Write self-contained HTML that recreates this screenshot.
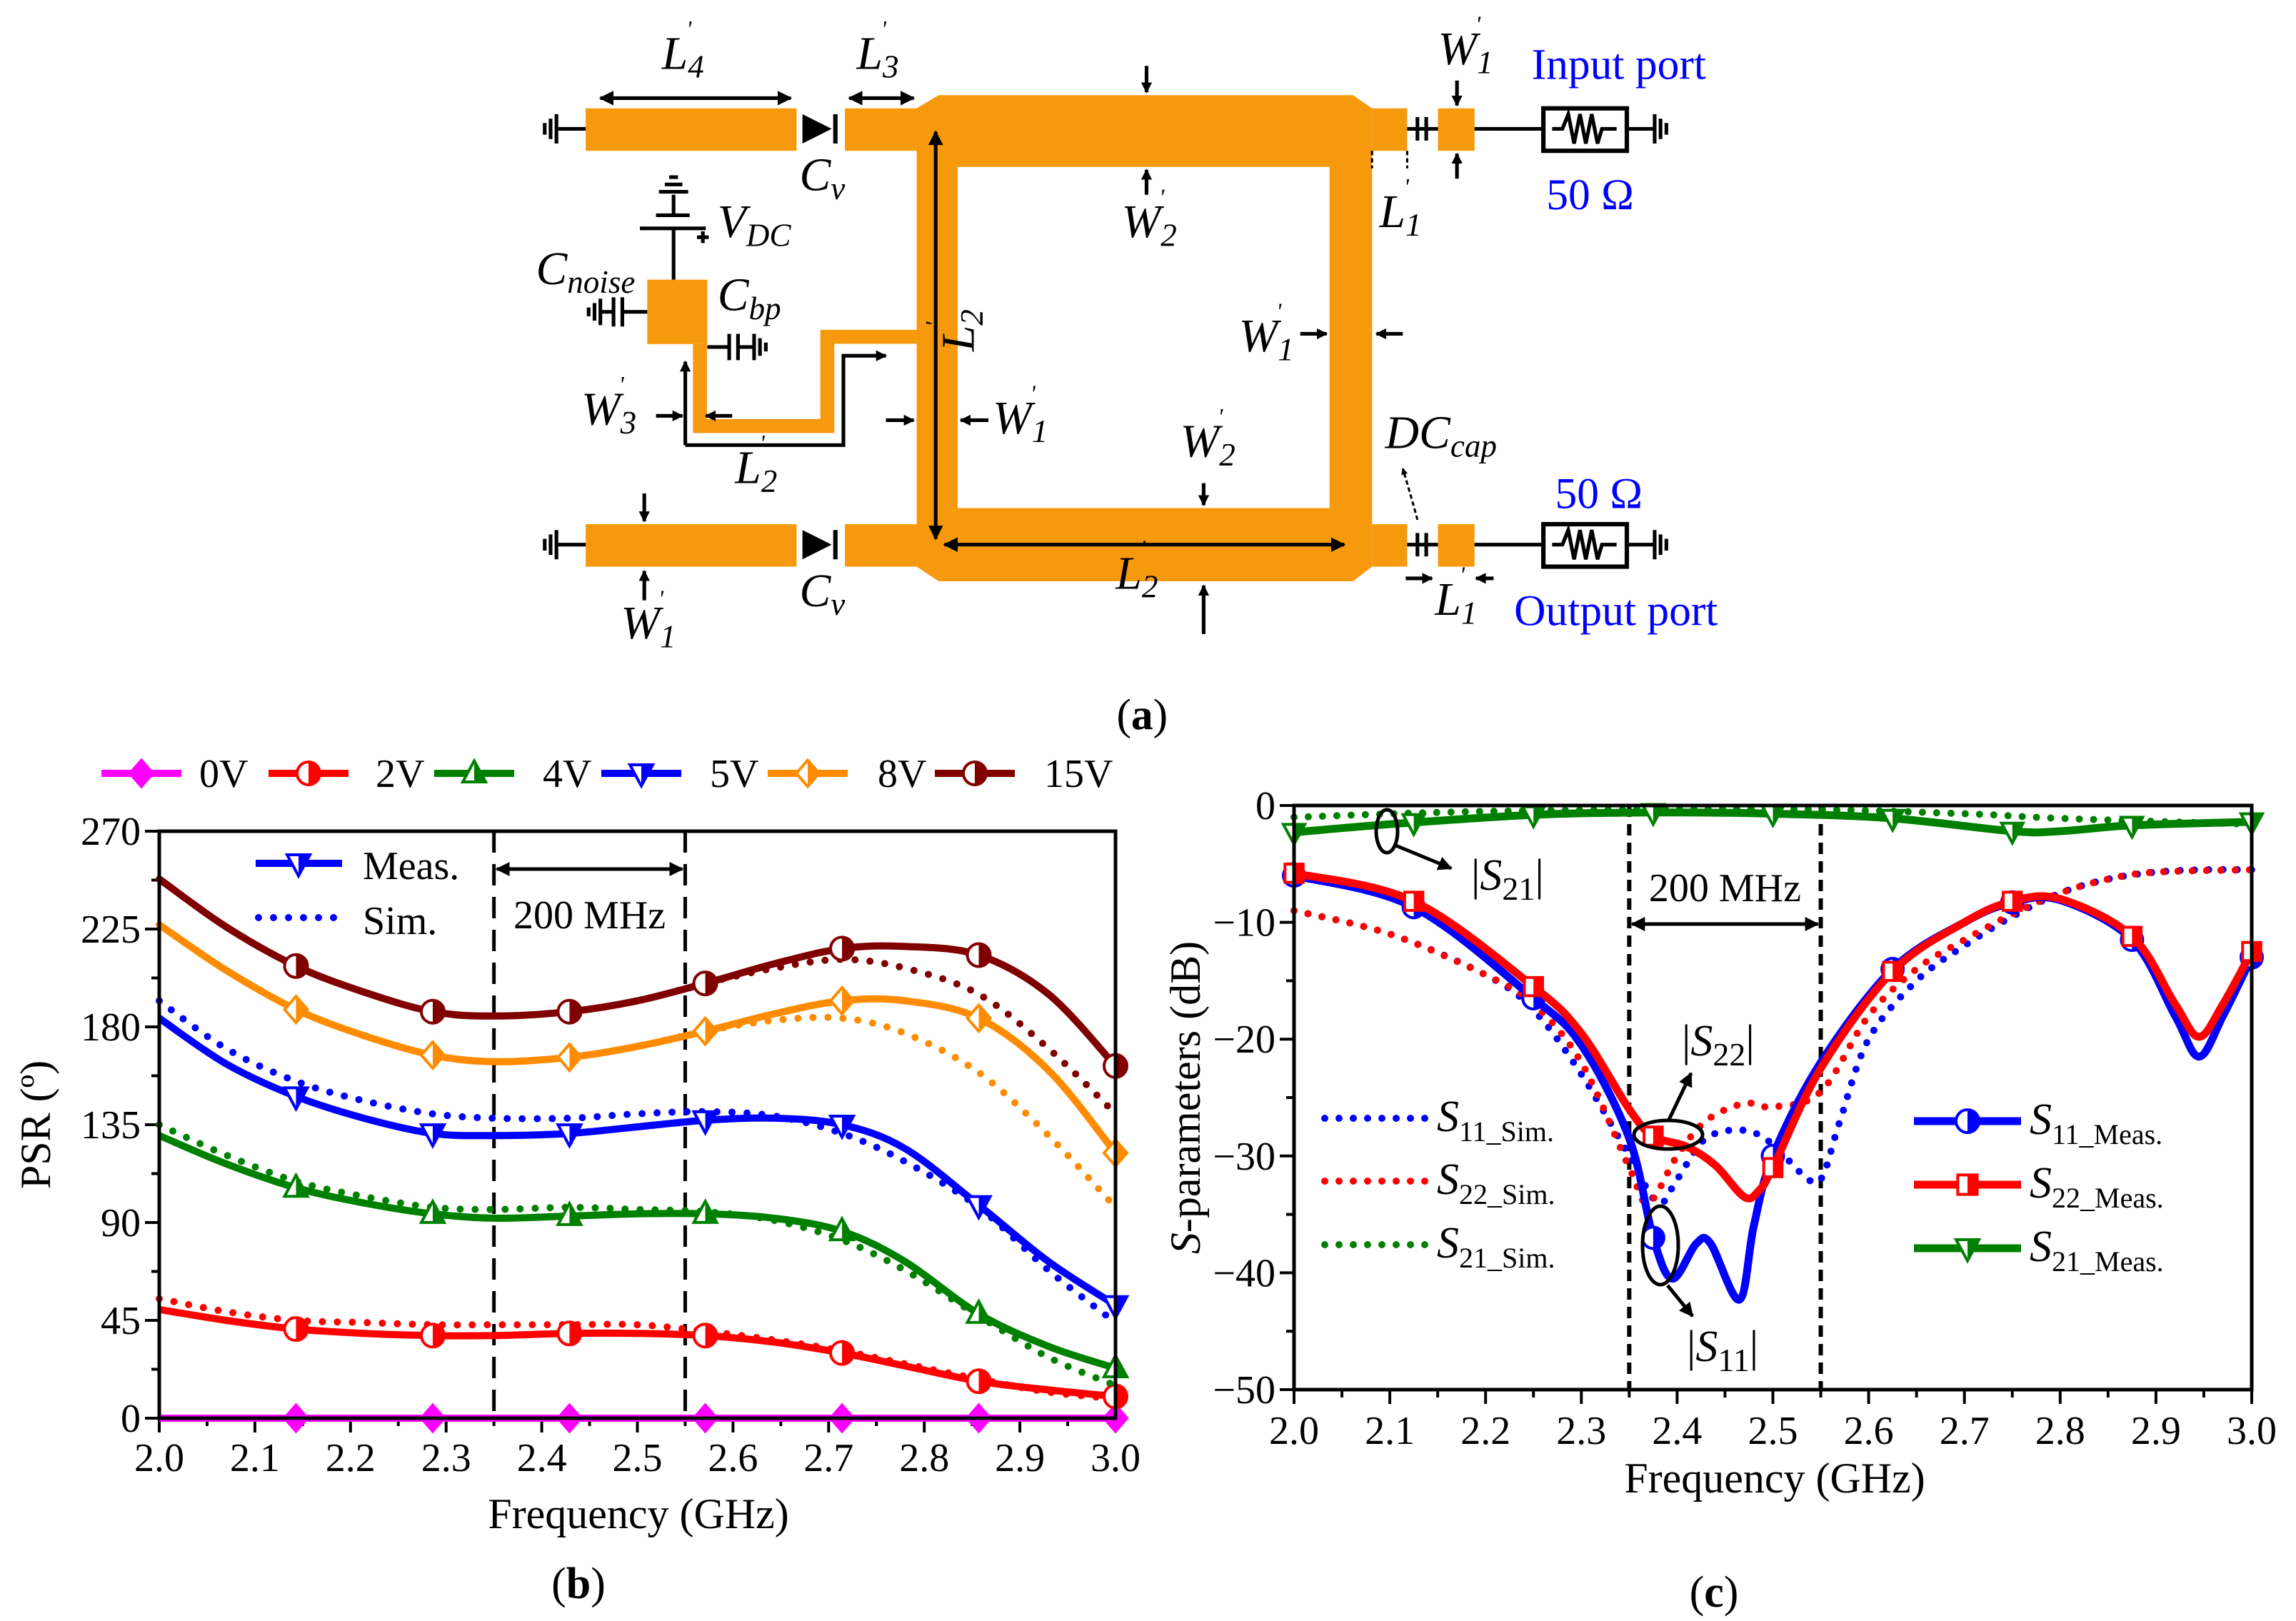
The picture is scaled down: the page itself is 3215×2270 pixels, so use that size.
<!DOCTYPE html>
<html><head><meta charset="utf-8"><style>
html,body{margin:0;padding:0;background:#fff}
svg{display:block}
text{font-family:"Liberation Serif","DejaVu Serif",serif}
</style></head><body>
<svg id="svg" xmlns="http://www.w3.org/2000/svg" width="3215" height="2270" viewBox="0 0 3215 2270">
<defs>
<marker id="ah" viewBox="0 0 10 10" refX="9" refY="5" markerWidth="4" markerHeight="4" orient="auto-start-reverse"><path d="M0,0 L10,5 L0,10 z" fill="#000"/></marker>
<marker id="ah2" viewBox="0 0 10 10" refX="9" refY="5" markerWidth="3" markerHeight="3" orient="auto-start-reverse"><path d="M0,0 L10,5 L0,10 z" fill="#000"/></marker>
</defs>

<!-- ============ (a) circuit diagram ============ -->
<g transform="scale(2.0504)" stroke-linecap="butt">
  <g fill="#f7990c">
    <polygon points="626,74 641,65 924,65 937,74 937,387 924,397 641,397 626,387"/>
    <rect x="400" y="74" width="144" height="29"/>
    <rect x="577" y="74" width="49" height="29"/>
    <rect x="937" y="74" width="24" height="29"/>
    <rect x="982" y="74" width="25" height="29"/>
    <rect x="400" y="358" width="144" height="29"/>
    <rect x="577" y="358" width="49" height="29"/>
    <rect x="937" y="358" width="24" height="29"/>
    <rect x="982" y="358" width="25" height="29"/>
    <rect x="442" y="191" width="41" height="44"/>
  </g>
  <rect x="654" y="114" width="254" height="233" fill="#fff"/>
  <polyline points="478,235 478,291 565,291 565,230 626,230" fill="none" stroke="#f7990c" stroke-width="9.5"/>
  <g stroke="#000" stroke-width="2.5" fill="none">
    <!-- grounds & lines top -->
    <path d="M380 88 H400 M380 78 V98 M376 81 V95 M372 84 V92"/>
    <path d="M380 372 H400 M380 362 V382 M376 365 V379 M372 368 V376"/>
    <path d="M961 88 H982 M968 80 V96 M974 80 V96 M1007 88 H1054 M1111 88 H1130 M1130 78 V98 M1134 81 V95 M1138 84 V92"/>
    <path d="M961 372 H982 M968 364 V380 M974 364 V380 M1007 372 H1054 M1111 372 H1130 M1130 362 V382 M1134 365 V379 M1138 368 V376"/>
    <rect x="1054" y="74" width="57" height="29" stroke-width="3"/>
    <rect x="1054" y="358" width="57" height="29" stroke-width="3"/>
    <path d="M1060 88 H1067 L1071 78 L1075 98 L1079 78 L1083 98 L1087 78 L1091 98 L1094 88 H1104"/>
    <path d="M1060 372 H1067 L1071 362 L1075 382 L1079 362 L1083 382 L1087 362 L1091 382 L1094 372 H1104"/>
    <!-- battery -->
    <path d="M460 191 V156 M437 156 H482 M448 147 H471 M460 147 V133 M450 131 H470 M454 126 H466 M457 121 H463"/>
    <path d="M476 162 H484 M480 158 V166"/>
    <!-- Cnoise -->
    <path d="M442 213 H425 M425 203 V223 M419 203 V223 M419 213 H410 M410 204 V222 M406 207 V219 M402 210 V216"/>
    <!-- Cbp -->
    <path d="M483 237 H498 M498 228 V246 M504 228 V246 M504 237 H515 M515 228 V246 M519 231 V243 M523 234 V240"/>
    <!-- L2' stub dimension -->
    <polyline points="468,304 576,304 576,243 605,243" marker-end="url(#ah2)"/>
    <line x1="468" y1="304" x2="468" y2="247" marker-end="url(#ah2)"/>
    <!-- L4, L3 dimension -->
    <line x1="410" y1="67" x2="540" y2="67" marker-start="url(#ah)" marker-end="url(#ah)"/>
    <line x1="580" y1="67" x2="624" y2="67" marker-start="url(#ah)" marker-end="url(#ah)"/>
    <line x1="639" y1="90" x2="639" y2="368" marker-start="url(#ah)" marker-end="url(#ah)"/>
    <line x1="645" y1="372" x2="918" y2="372" marker-start="url(#ah)" marker-end="url(#ah)"/>
    <!-- small arrows -->
    <line x1="783" y1="45" x2="783" y2="63" marker-end="url(#ah2)"/>
    <line x1="783" y1="133" x2="783" y2="116" marker-end="url(#ah2)"/>
    <line x1="995" y1="55" x2="995" y2="72" marker-end="url(#ah2)"/>
    <line x1="995" y1="122" x2="995" y2="105" marker-end="url(#ah2)"/>
    <line x1="888" y1="228" x2="906" y2="228" marker-end="url(#ah2)"/>
    <line x1="958" y1="228" x2="940" y2="228" marker-end="url(#ah2)"/>
    <line x1="605" y1="287" x2="624" y2="287" marker-end="url(#ah2)"/>
    <line x1="675" y1="287" x2="656" y2="287" marker-end="url(#ah2)"/>
    <line x1="448" y1="284" x2="466" y2="284" marker-end="url(#ah2)"/>
    <line x1="500" y1="284" x2="482" y2="284" marker-end="url(#ah2)"/>
    <line x1="822" y1="330" x2="822" y2="345" marker-end="url(#ah2)"/>
    <line x1="822" y1="433" x2="822" y2="400" marker-end="url(#ah2)"/>
    <line x1="440" y1="337" x2="440" y2="356" marker-end="url(#ah2)"/>
    <line x1="440" y1="410" x2="440" y2="390" marker-end="url(#ah2)"/>
    <line x1="960" y1="395" x2="978" y2="395" marker-end="url(#ah2)"/>
    <line x1="1020" y1="395" x2="1008" y2="395" marker-end="url(#ah2)"/>
    <path d="M937 103 V115 M961 103 V115" stroke-dasharray="3 2" stroke-width="1.5"/>
    <path d="M968 355 Q964 340 958 320" stroke-dasharray="3 2" stroke-width="1.5" marker-end="url(#ah2)"/>
  </g>
  <g fill="#000">
    <polygon points="548,78 548,98 568,88"/><rect x="569" y="78" width="3" height="20"/>
    <polygon points="548,362 548,382 568,372"/><rect x="569" y="362" width="3" height="20"/>
  </g>
  <g font-style="italic" font-size="32" fill="#000">
    <text x="452" y="47">L<tspan font-size="22" dy="6">4</tspan><tspan font-size="16" dx="-12" dy="-28">'</tspan></text>
    <text x="585" y="47">L<tspan font-size="22" dy="6">3</tspan><tspan font-size="16" dx="-12" dy="-28">'</tspan></text>
    <text x="982" y="44">W<tspan font-size="22" dy="6">1</tspan><tspan font-size="16" dx="-12" dy="-28">'</tspan></text>
    <text x="546" y="130">C<tspan font-size="22" dy="6">v</tspan></text>
    <text x="546" y="414">C<tspan font-size="22" dy="6">v</tspan></text>
    <text x="490" y="162">V<tspan font-size="22" dy="6">DC</tspan></text>
    <text x="366" y="194">C<tspan font-size="22" dy="6">noise</tspan></text>
    <text x="490" y="212">C<tspan font-size="22" dy="6">bp</tspan></text>
    <text x="942" y="155">L<tspan font-size="22" dy="6">1</tspan><tspan font-size="16" dx="-12" dy="-28">'</tspan></text>
    <text x="766" y="162">W<tspan font-size="22" dy="6">2</tspan><tspan font-size="16" dx="-12" dy="-28">'</tspan></text>
    <text x="846" y="240">W<tspan font-size="22" dy="6">1</tspan><tspan font-size="16" dx="-12" dy="-28">'</tspan></text>
    <text x="397" y="290">W<tspan font-size="22" dy="6">3</tspan><tspan font-size="16" dx="-12" dy="-28">'</tspan></text>
    <text x="678" y="296">W<tspan font-size="22" dy="6">1</tspan><tspan font-size="16" dx="-12" dy="-28">'</tspan></text>
    <text x="502" y="330">L<tspan font-size="22" dy="6">2</tspan><tspan font-size="16" dx="-12" dy="-28">'</tspan></text>
    <text x="806" y="312">W<tspan font-size="22" dy="6">2</tspan><tspan font-size="16" dx="-12" dy="-28">'</tspan></text>
    <text x="946" y="306">DC<tspan font-size="22" dy="6">cap</tspan></text>
    <text x="424" y="436">W<tspan font-size="22" dy="6">1</tspan><tspan font-size="16" dx="-12" dy="-28">'</tspan></text>
    <text x="762" y="402">L<tspan font-size="22" dy="6">2</tspan><tspan font-size="16" dx="-12" dy="-28">'</tspan></text>
    <text x="980" y="420">L<tspan font-size="22" dy="6">1</tspan><tspan font-size="16" dx="-12" dy="-28">'</tspan></text>
    <text transform="translate(665,240) rotate(-90)">L<tspan font-size="22" dy="6">2</tspan><tspan font-size="16" dx="-12" dy="-28">'</tspan></text>
  </g>
  <g font-size="30" fill="#0000ff">
    <text x="1046" y="54">Input port</text>
    <text x="1056" y="143">50 Ω</text>
    <text x="1062" y="347">50 Ω</text>
    <text x="1034" y="427">Output port</text>
  </g>
  <text x="780" y="498" font-size="30" text-anchor="middle">(<tspan font-weight="bold">a</tspan>)</text>
</g>

<g id="chartB"></g>
<g id="chartC"></g>
</svg>

<script>
// ---------- Chart (b) data ----------
const bX = [2.0,2.07,2.143,2.214,2.286,2.35,2.429,2.5,2.571,2.643,2.714,2.78,2.857,2.93,3.0];
const bYTicks = [0,45,90,135,180,225,270];
const bXTicks = [2.0,2.1,2.2,2.3,2.4,2.5,2.6,2.7,2.8,2.9,3.0];
const v15Meas = [248,226,208,196,187,185,187,192,200,209,216,217,213,195,162];
const v15Sim  = [248,226,208,196,187,185,187,192,200,207,211,207,195,170,140];
const v8Meas  = [227,206,188,176,167,164,166,171,178,186,192,192,184,160,122];
const v8Sim   = [227,206,188,176,167,164,166,171,178,183,184,177,159,130,97];
const v5Meas  = [184,163,148,138,131,130,131,134,137,138,135,124,98,72,52];
const v5Sim   = [192,170,155,146,140,138,138,140,141,139,131,118,97,68,44];
const v4Meas  = [130,117,106,99,94,92,93,94,94,92,86,72,48,33,23];
const v4Sim   = [135,121,109,102,97,96,97,96,95,91,82,68,47,28,15];
const v2Meas  = [50,45,41,39,38,38,39,39,38,35,30,24,17,13,10];
const v2Sim   = [55,49,45,44,43,43,43,43,40,36,31,25,18,12,9];
const v0Meas  = [0,0,0,0,0,0,0,0,0,0,0,0,0,0,0];
const bLegend = ["0V","2V","4V","5V","8V","15V"];

// ---------- Chart (c) data ----------
const cYTicks = [0,-10,-20,-30,-40,-50];
const cXTicks = [2.0,2.1,2.2,2.3,2.4,2.5,2.6,2.7,2.8,2.9,3.0];
const s21MeasX = [2.0,2.1,2.25,2.375,2.5,2.625,2.75,2.8,2.875,3.0];
const s21MeasY = [-2.3,-1.6,-0.8,-0.6,-0.7,-1.1,-2.2,-2.2,-1.7,-1.4];
const s21SimX = [2.0,2.2,2.5,2.7,2.8,3.0];
const s21SimY = [-1.0,-0.5,-0.3,-0.7,-1.1,-1.6];
const s11MeasX = [2.0,2.125,2.25,2.3,2.35,2.375,2.395,2.42,2.435,2.465,2.48,2.5,2.55,2.625,2.7,2.75,2.8,2.875,2.92,2.945,2.97,3.0];
const s11MeasY = [-6,-8.7,-16.5,-20.5,-28.5,-37,-40.5,-37.5,-37.5,-42.3,-36,-30,-22,-14,-10,-8.3,-8.1,-11.5,-18,-21.5,-18,-13];
const s22MeasX = [2.0,2.125,2.25,2.3,2.35,2.375,2.41,2.44,2.47,2.485,2.5,2.55,2.625,2.7,2.75,2.8,2.875,2.92,2.945,2.97,3.0];
const s22MeasY = [-5.8,-8.2,-15.5,-19.5,-26,-28.3,-29.2,-30.8,-33.5,-33,-31,-22.5,-14.2,-10,-8.2,-8,-11.2,-17,-19.8,-17,-12.5];
const s11SimX = [2.0,2.1,2.2,2.25,2.3,2.35,2.38,2.4,2.43,2.47,2.5,2.53,2.55,2.57,2.6,2.65,2.7,2.75,2.8,2.85,2.9,2.95,3.0];
const s11SimY = [-9,-11,-14.5,-17.5,-23,-30,-34,-32,-28.5,-27.8,-29,-31.5,-32,-27,-20,-15,-12,-9.5,-7.5,-6.3,-5.7,-5.5,-5.5];
const s22SimX = [2.0,2.1,2.2,2.25,2.3,2.35,2.37,2.4,2.43,2.47,2.5,2.55,2.6,2.65,2.7,2.75,2.8,2.85,2.9,3.0];
const s22SimY = [-9,-11,-14.5,-17,-22,-31,-34,-30,-27,-25.5,-25.8,-24.5,-18,-14,-11.5,-9.3,-7.5,-6.3,-5.7,-5.5];
const cMarkX = [2.0,2.125,2.25,2.375,2.5,2.625,2.75,2.875,3.0];

const NS = "http://www.w3.org/2000/svg";
function el(parent, tag, attrs, txt){
  const e = document.createElementNS(NS, tag);
  for (const k in attrs) e.setAttribute(k, attrs[k]);
  if (txt !== undefined) e.textContent = txt;
  parent.appendChild(e);
  return e;
}
function smoothPath(pts){
  let d = "M" + pts[0][0].toFixed(1) + "," + pts[0][1].toFixed(1);
  for (let i=0;i<pts.length-1;i++){
    const p0=pts[Math.max(0,i-1)], p1=pts[i], p2=pts[i+1], p3=pts[Math.min(pts.length-1,i+2)];
    const c1=[p1[0]+(p2[0]-p0[0])/6, p1[1]+(p2[1]-p0[1])/6];
    const c2=[p2[0]-(p3[0]-p1[0])/6, p2[1]-(p3[1]-p1[1])/6];
    d += " C"+c1[0].toFixed(1)+","+c1[1].toFixed(1)+" "+c2[0].toFixed(1)+","+c2[1].toFixed(1)+" "+p2[0].toFixed(1)+","+p2[1].toFixed(1);
  }
  return d;
}
function interp(xs, ys, x){
  for (let i=0;i<xs.length-1;i++){ if (x>=xs[i]-1e-9 && x<=xs[i+1]+1e-9){ const t=(x-xs[i])/(xs[i+1]-xs[i]); return ys[i]+t*(ys[i+1]-ys[i]); } }
  return ys[ys.length-1];
}
let clipN = 0;
function shapePath(type, x, y, r){
  if (type==="circle") return `M${x-r},${y} a${r},${r} 0 1,0 ${2*r},0 a${r},${r} 0 1,0 ${-2*r},0 z`;
  if (type==="square") return `M${x-r*0.85},${y-r*0.85} h${1.7*r} v${1.7*r} h${-1.7*r} z`;
  if (type==="diamond") return `M${x},${y-r*1.15} L${x+r},${y} L${x},${y+r*1.15} L${x-r},${y} z`;
  if (type==="up") return `M${x},${y-r*1.1} L${x+r},${y+r*0.75} L${x-r},${y+r*0.75} z`;
  if (type==="down") return `M${x},${y+r*1.1} L${x+r},${y-r*0.75} L${x-r},${y-r*0.75} z`;
}
function marker(g, type, x, y, r, color, full){
  const svg = document.getElementById('svg');
  const mk = el(g, "g", {});
  
  
  const d = shapePath(type, x, y, r);
  if (full){ el(mk,"path",{d:d,fill:color,stroke:color,"stroke-width":4}); return; }
  el(mk,"path",{d:d,fill:"#fff",stroke:color,"stroke-width":4});
  const id = "cl"+(clipN++);
  const cp = el(svg.querySelector("defs"),"clipPath",{id:id});
  el(cp,"rect",{x:x,y:y-r*2,width:r*2,height:r*4});
  el(mk,"path",{d:d,fill:color,"clip-path":`url(#${id})`});
}

// ================= Chart B =================
(function(){
  const g = document.getElementById('chartB');
  const L=223,R=1562,T=1164,B=1986;
  const sx = v => L+(v-2)*(R-L);
  const sy = v => B-(v/270)*(B-T);
  // ticks
  const ax = el(g,"g",{stroke:"#000","stroke-width":4});
  
  
  for (let i=0;i<bYTicks.length;i++){
    const v=bYTicks[i];
    el(ax,"line",{x1:L-20,x2:L,y1:sy(v),y2:sy(v)});
    if (i<bYTicks.length-1) el(ax,"line",{x1:L-11,x2:L,y1:sy(v+22.5),y2:sy(v+22.5)});
    const t = el(g,"text",{x:L-26,y:sy(v)+19,"font-size":56,"text-anchor":"end"},String(v));
    
    
  }
  for (let i=0;i<bXTicks.length;i++){
    const v=bXTicks[i];
    el(ax,"line",{x1:sx(v),x2:sx(v),y1:B,y2:B+20});
    if (i<bXTicks.length-1) el(ax,"line",{x1:sx(v+0.05),x2:sx(v+0.05),y1:B,y2:B+11});
    const t = el(g,"text",{x:sx(v),y:B+74,"font-size":56,"text-anchor":"middle"},v.toFixed(1));
    
    
  }
  // dashed band
  [2.35,2.55].forEach(v=>{
    const ln = el(g,"line",{x1:sx(v),x2:sx(v),y1:T,y2:B,stroke:"#000","stroke-width":5,"stroke-dasharray":"30 16"});
    
    
  });
  const arr = el(g,"line",{x1:sx(2.35)+4,x2:sx(2.55)-4,y1:1217,y2:1217,stroke:"#000","stroke-width":5,"marker-start":"url(#ah)","marker-end":"url(#ah)"});
  
  
  const bw = el(g,"text",{x:sx(2.45),y:1300,"font-size":56,"text-anchor":"middle"},"200 MHz");
  
  

  const series = [
    {m:v0Meas,s:null,c:"#ff00ff",t:"diamond",full:true,name:"0v"},
    {m:v2Meas,s:v2Sim,c:"#ff0000",t:"circle",name:"2v"},
    {m:v4Meas,s:v4Sim,c:"#008000",t:"up",name:"4v"},
    {m:v5Meas,s:v5Sim,c:"#0000ff",t:"down",name:"5v"},
    {m:v8Meas,s:v8Sim,c:"#ff8c00",t:"diamond",name:"8v"},
    {m:v15Meas,s:v15Sim,c:"#800000",t:"circle",name:"15v"}
  ];
  const markIdx=[2,4,6,8,10,12,14];
  series.forEach(se=>{
    if (se.s){
      const p = el(g,"path",{d:smoothPath(bX.map((x,i)=>[sx(x),sy(se.s[i])])),fill:"none",stroke:se.c,"stroke-width":10,"stroke-linecap":"round","stroke-dasharray":"0 21"});
      
      
    }
    const p2 = el(g,"path",{d:smoothPath(bX.map((x,i)=>[sx(x),sy(se.m[i])])),fill:"none",stroke:se.c,"stroke-width":10});
    
    
    markIdx.forEach(i=>marker(g,se.t,sx(bX[i]),sy(se.m[i]),16,se.c,se.full));
  });
  // frame
  const fr = el(g,"rect",{x:L,y:T,width:R-L,height:B-T,fill:"none",stroke:"#000","stroke-width":5});
  
  
  // legend top
  const lx=[142,376,608,842,1075,1309], tx=[279,526,760,994,1229,1462];
  series.forEach((se,i)=>{
    const lg = el(g,"g",{});
    
    
    el(lg,"line",{x1:lx[i],x2:lx[i]+112,y1:1083,y2:1083,stroke:se.c,"stroke-width":10});
    marker(lg,se.t,lx[i]+56,1083,16,se.c,se.full);
    el(lg,"text",{x:tx[i],y:1102,"font-size":56},bLegend[i]);
  });
  // inner legend
  const il = el(g,"g",{});
  
  
  el(il,"line",{x1:358,x2:479,y1:1209,y2:1209,stroke:"#0000ff","stroke-width":10});
  marker(il,"down",418,1209,16,"#0000ff",false);
  el(il,"text",{x:508,y:1231,"font-size":56},"Meas.");
  el(il,"line",{x1:362,x2:470,y1:1285,y2:1285,stroke:"#0000ff","stroke-width":10,"stroke-linecap":"round","stroke-dasharray":"0 21"});
  el(il,"text",{x:508,y:1308,"font-size":56},"Sim.");
  // titles
  const xt = el(g,"text",{x:894,y:2140,"font-size":60,"text-anchor":"middle"},"Frequency (GHz)");
  
  
  const yt = el(g,"text",{transform:"translate(70,1575) rotate(-90)","font-size":60,"text-anchor":"middle"},"PSR (º)");
  
  
  const cap = el(g,"text",{x:810,y:2238,"font-size":62,"text-anchor":"middle"},"(");
  
  
  const tb = el(cap,"tspan",{"font-weight":"bold"},"b"); el(cap,"tspan",{},")");
})();

// ================= Chart C =================
(function(){
  const g = document.getElementById('chartC');
  const L=1812,R=3153,T=1128,B=1946;
  const sx = v => L+(v-2)*(R-L);
  const sy = v => T+(-v/50)*(B-T);
  const ax = el(g,"g",{stroke:"#000","stroke-width":4});
  
  
  for (let i=0;i<cYTicks.length;i++){
    const v=cYTicks[i];
    el(ax,"line",{x1:L-20,x2:L,y1:sy(v),y2:sy(v)});
    if (i<cYTicks.length-1) el(ax,"line",{x1:L-11,x2:L,y1:sy(v-5),y2:sy(v-5)});
    const t = el(g,"text",{x:L-26,y:sy(v)+19,"font-size":56,"text-anchor":"end"},v===0?"0":"−"+Math.abs(v));
    
    
  }
  for (let i=0;i<cXTicks.length;i++){
    const v=cXTicks[i];
    el(ax,"line",{x1:sx(v),x2:sx(v),y1:B,y2:B+20});
    if (i<cXTicks.length-1) el(ax,"line",{x1:sx(v+0.05),x2:sx(v+0.05),y1:B,y2:B+11});
    const t = el(g,"text",{x:sx(v),y:B+76,"font-size":56,"text-anchor":"middle"},v.toFixed(1));
    
    
  }
  [2.35,2.55].forEach(v=>{
    const ln = el(g,"line",{x1:sx(v),x2:sx(v),y1:T,y2:B,stroke:"#000","stroke-width":6,"stroke-dasharray":"16 10"});
    
    
  });
  const arr = el(g,"line",{x1:sx(2.35)+4,x2:sx(2.55)-4,y1:1294,y2:1294,stroke:"#000","stroke-width":5,"marker-start":"url(#ah)","marker-end":"url(#ah)"});
  
  
  const bw = el(g,"text",{x:sx(2.45),y:1262,"font-size":56,"text-anchor":"middle"},"200 MHz");
  
  

  const sims = [[s11SimX,s11SimY,"#0000ff","s11"],[s22SimX,s22SimY,"#ff0000","s22"],[s21SimX,s21SimY,"#008000","s21"]];
  sims.forEach(s=>{
    const p = el(g,"path",{d:smoothPath(s[0].map((x,i)=>[sx(x),sy(s[1][i])])),fill:"none",stroke:s[2],"stroke-width":10,"stroke-linecap":"round","stroke-dasharray":"0 20"});
    
    
  });
  const meas = [[s21MeasX,s21MeasY,"#008000","down","s21"],[s11MeasX,s11MeasY,"#0000ff","circle","s11"],[s22MeasX,s22MeasY,"#ff0000","square","s22"]];
  meas.forEach(s=>{
    const p = el(g,"path",{d:smoothPath(s[0].map((x,i)=>[sx(x),sy(s[1][i])])),fill:"none",stroke:s[2],"stroke-width":11,"stroke-linejoin":"round"});
    
    
    cMarkX.forEach(mx=>marker(g,s[3],sx(mx),sy(interp(s[0],s[1],mx)),15,s[2],false));
  });
  const fr = el(g,"rect",{x:L,y:T,width:R-L,height:B-T,fill:"none",stroke:"#000","stroke-width":5});
  
  

  // annotations
  const an = el(g,"g",{fill:"none",stroke:"#000","stroke-width":5});
  
  
  el(an,"ellipse",{cx:1942,cy:1164,rx:15,ry:30});
  el(an,"line",{x1:1952,y1:1183,x2:2032,y2:1216,"marker-end":"url(#ah)"});
  el(an,"ellipse",{cx:2336,cy:1589,rx:48,ry:20});
  el(an,"line",{x1:2336,y1:1570,x2:2368,y2:1503,"marker-end":"url(#ah)"});
  el(an,"ellipse",{cx:2325,cy:1744,rx:25,ry:55});
  el(an,"line",{x1:2335,y1:1800,x2:2370,y2:1843,"marker-end":"url(#ah)"});
  function absLabel(x,y,sub,name){
    const t = el(g,"text",{x:x,y:y,"font-size":62},"|");
    
    
    el(t,"tspan",{"font-style":"italic"},"S");
    el(t,"tspan",{"font-size":46,dy:14},sub);
    el(t,"tspan",{dy:-14},"|");
  }
  absLabel(2060,1246,"21","s21-annotation");
  absLabel(2355,1478,"22","s22-annotation");
  absLabel(2362,1906,"11","s11-annotation");

  // legends
  const simLab=["11_Sim.","22_Sim.","21_Sim."], simCol=["#0000ff","#ff0000","#008000"], ly=[1566,1654,1743];
  simLab.forEach((s,i)=>{
    const lg = el(g,"g",{});
    
    
    el(lg,"line",{x1:1855,x2:2000,y1:ly[i],y2:ly[i],stroke:simCol[i],"stroke-width":10,"stroke-linecap":"round","stroke-dasharray":"0 20"});
    const t = el(lg,"text",{x:2012,y:ly[i]+18,"font-size":62});
    el(t,"tspan",{"font-style":"italic"},"S");
    el(t,"tspan",{"font-size":40,dy:14},s);
  });
  const measLab=["11_Meas.","22_Meas.","21_Meas."], measCol=["#0000ff","#ff0000","#008000"], measT=["circle","square","down"], my=[1570,1659,1748];
  measLab.forEach((s,i)=>{
    const lg = el(g,"g",{});
    
    
    el(lg,"line",{x1:2680,x2:2830,y1:my[i],y2:my[i],stroke:measCol[i],"stroke-width":11});
    marker(lg,measT[i],2755,my[i],16,measCol[i],false);
    const t = el(lg,"text",{x:2842,y:my[i]+18,"font-size":62});
    el(t,"tspan",{"font-style":"italic"},"S");
    el(t,"tspan",{"font-size":40,dy:14},s);
  });
  const xt = el(g,"text",{x:2485,y:2090,"font-size":60,"text-anchor":"middle"},"Frequency (GHz)");
  
  
  const yt = el(g,"text",{transform:"translate(1680,1537) rotate(-90)","font-size":60,"text-anchor":"middle"});
  
  
  el(yt,"tspan",{"font-style":"italic"},"S");
  el(yt,"tspan",{},"-parameters (dB)");
  const cap = el(g,"text",{x:2400,y:2250,"font-size":62,"text-anchor":"middle"},"(");
  
  
  el(cap,"tspan",{"font-weight":"bold"},"c"); el(cap,"tspan",{},")");
})();
</script>
</body></html>
